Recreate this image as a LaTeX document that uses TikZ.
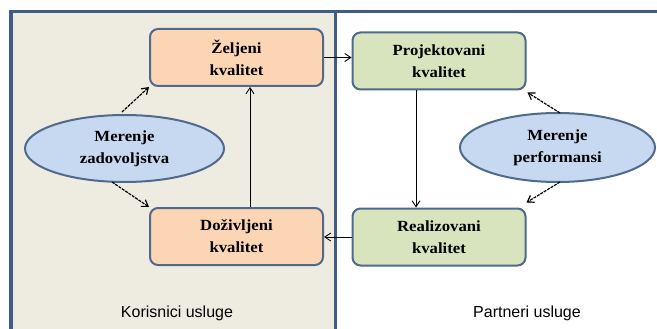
\documentclass[tikz,border=0pt]{standalone}
\usepackage{fontspec}
\setmainfont{Liberation Serif}[FakeStretch=1.08]
\setsansfont{Liberation Sans}
\usetikzlibrary{shapes.geometric,arrows.meta}
\definecolor{frame}{HTML}{3E5C86}
\definecolor{leftbg}{HTML}{EEECE1}
\definecolor{orangebox}{HTML}{FCD5B5}
\definecolor{greenbox}{HTML}{D7E4BD}
\definecolor{bluell}{HTML}{C6D9F1}
\definecolor{edge}{HTML}{4F6A8C}
\begin{document}
\begin{tikzpicture}[x=1pt,y=-1pt,
  qbox/.style={draw=edge,line width=2pt,rounded corners=8pt,minimum width=173pt,minimum height=57pt,align=center,font=\fontsize{15.5}{22}\selectfont\bfseries},
  qell/.style={ellipse,draw=edge,line width=2pt,fill=bluell,align=center,inner sep=0pt,font=\fontsize{15.5}{22}\selectfont\bfseries},
  conn/.style={draw=black,line width=0.9pt,-{Straight Barb[length=6pt,width=8pt]}},
  dconn/.style={conn,line width=1.2pt,dash pattern=on 3pt off 1pt},
  lbl/.style={font=\sffamily\fontsize{16}{18}\selectfont}]
\useasboundingbox (0,0) rectangle (657,329);
\fill[white] (0,0) rectangle (657,329);
\fill[leftbg] (10,10) rectangle (336,335);
\draw[frame,line width=3.5pt] (11,335) -- (11,11.5) -- (660,11.5);
\draw[frame,line width=3pt] (335.5,11.5) -- (335.5,335);
\node[qbox,fill=orangebox] (zq) at (236.5,57.5) {Željeni\\kvalitet};
\node[qbox,fill=orangebox] (dq) at (236.5,236.5) {Doživljeni\\kvalitet};
\node[qbox,fill=greenbox] (pq) at (439,61) {Projektovani\\kvalitet};
\node[qbox,fill=greenbox] (rq) at (439,237) {Realizovani\\kvalitet};
\node[qell,minimum width=199pt,minimum height=67pt] (mz) at (124.5,148.5) {Merenje\\zadovoljstva};
\node[qell,minimum width=195pt,minimum height=69pt] (mp) at (557.5,147.5) {Merenje\\performansi};
\node[lbl] (kl) at (177,313) {Korisnici usluge};
\node[lbl] (pl) at (527,313) {Partneri usluge};
\draw[conn] (zq.east) -- (pq.west |- zq.east);
\draw[conn] (pq.south -| 416,0) -- (rq.north -| 416,0);
\draw[conn] (rq.west) -- (dq.east |- rq.west);
\draw[conn] (dq.north -| 250,0) -- (zq.south -| 250,0);
\coordinate (a1) at (122,112);
\coordinate (a2) at (112,182);
\coordinate (b1) at (560,113);
\coordinate (b2) at (560,182);
\draw[dconn] (a1) -- (zq.south west);
\draw[dconn] (a2) -- (dq.north west);
\draw[dconn] (b1) -- ([xshift=1pt,yshift=-2pt]pq.south east);
\draw[dconn] (b2) -- ([yshift=5pt]rq.north east);
\end{tikzpicture}
\end{document}
